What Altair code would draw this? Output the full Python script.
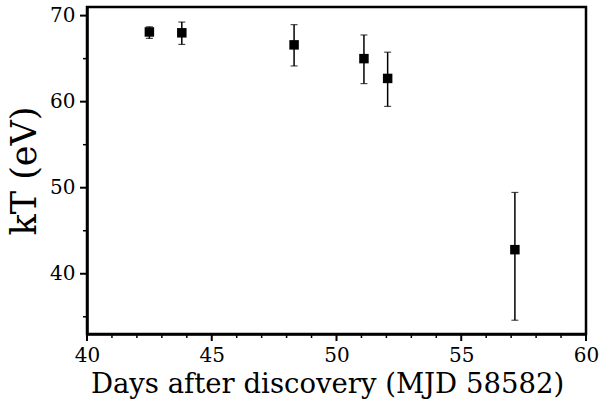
import altair as alt
import pandas as pd

days = [42.5, 43.8, 48.3, 51.1, 52.05, 57.15]
kT = [68.1, 68.0, 66.6, 65.0, 62.7, 42.8]
kT_lo = [67.35, 66.65, 64.15, 62.1, 59.45, 34.6]
kT_hi = [68.7, 69.25, 68.95, 67.75, 65.75, 49.45]
x_major = [40, 45, 50, 55, 60]
x_minor = [41, 42, 43, 44, 46, 47, 48, 49, 51, 52, 53, 54, 56, 57, 58, 59]
y_major = [40, 50, 60, 70]
y_minor = [35, 45, 55, 65]

df = pd.DataFrame({"day": days, "kT": kT, "lo": kT_lo, "hi": kT_hi})

FONT = "DejaVu Serif"
W, H = 499, 327
xscale = alt.Scale(domain=[40, 60], nice=False, zero=False)
yscale = alt.Scale(domain=[33, 71], nice=False, zero=False)

xaxis = alt.Axis(values=x_major, orient="bottom", ticks=False, tickSize=0,
                 labelFontSize=20, labelPadding=11, labelFlush=False,
                 title="Days after discovery (MJD 58582)",
                 titleFontSize=27.5, titlePadding=5, titleX=240)
yaxis = alt.Axis(values=y_major, orient="left", ticks=False, tickSize=0,
                 labelFontSize=20, labelPadding=12,
                 title="kT (eV)", titleFontSize=35, titlePadding=7)

base = alt.Chart(df)

bars = base.mark_rule(color="black", strokeWidth=1.5).encode(
    x=alt.X("day:Q", scale=xscale, axis=xaxis),
    y=alt.Y("lo:Q", scale=yscale, axis=yaxis),
    y2="hi:Q",
)
cap_lo = base.mark_tick(color="black", orient="horizontal", size=7, thickness=1.2).encode(
    x=alt.X("day:Q", scale=xscale, axis=xaxis), y=alt.Y("lo:Q", scale=yscale, axis=yaxis))
cap_hi = base.mark_tick(color="black", orient="horizontal", size=7, thickness=1.2).encode(
    x=alt.X("day:Q", scale=xscale, axis=xaxis), y=alt.Y("hi:Q", scale=yscale, axis=yaxis))
pts = base.mark_square(color="black", size=90, opacity=1).encode(
    x=alt.X("day:Q", scale=xscale, axis=xaxis), y=alt.Y("kT:Q", scale=yscale, axis=yaxis))

# axis tick marks, placed through the scales
xmaj = alt.Chart(pd.DataFrame({"v": x_major})).mark_rule(color="black", strokeWidth=2).encode(
    x=alt.X("v:Q", scale=xscale, axis=xaxis), y=alt.value(H), y2=alt.value(H + 7))
xmin = alt.Chart(pd.DataFrame({"v": x_minor})).mark_rule(color="black", strokeWidth=1.5).encode(
    x=alt.X("v:Q", scale=xscale, axis=xaxis), y=alt.value(H), y2=alt.value(H + 4))
ymaj = alt.Chart(pd.DataFrame({"v": y_major})).mark_rule(color="black", strokeWidth=2).encode(
    y=alt.Y("v:Q", scale=yscale, axis=yaxis), x=alt.value(-7), x2=alt.value(0))
ymin = alt.Chart(pd.DataFrame({"v": y_minor})).mark_rule(color="black", strokeWidth=1.5).encode(
    y=alt.Y("v:Q", scale=yscale, axis=yaxis), x=alt.value(-4), x2=alt.value(0))

chart = alt.layer(bars, cap_lo, cap_hi, pts, xmaj, xmin, ymaj, ymin).properties(
    width=W, height=H,
    background="white",
    autosize=alt.AutoSizeParams(type="none"),
    padding={"left": 87, "top": 7, "right": 13, "bottom": 71},
).configure_view(
    stroke="black", strokeWidth=2.5
).configure_axis(
    domainColor="black", domainWidth=2.5, grid=False,
    labelFont=FONT, labelColor="black", labelOverlap=False,
    titleFont=FONT, titleColor="black", titleFontWeight="normal",
)

chart.save("out.html", embed_options={"renderer": "svg", "actions": False})
